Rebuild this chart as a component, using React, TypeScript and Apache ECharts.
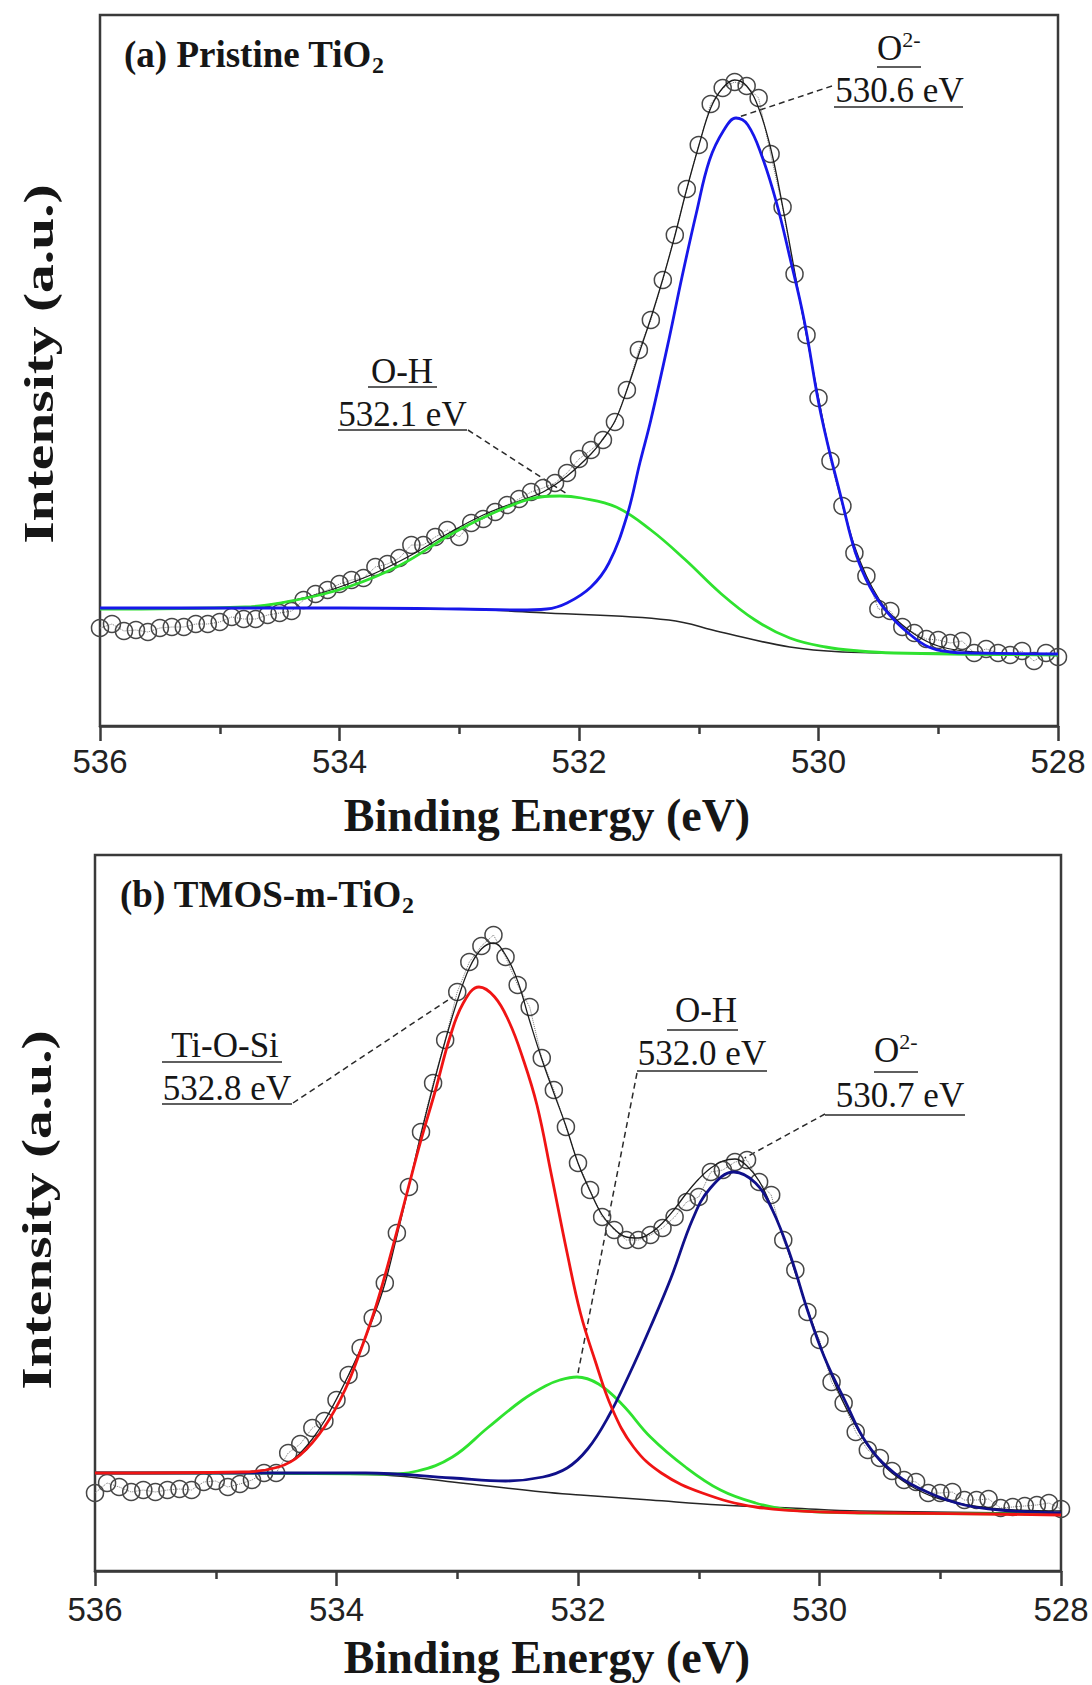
import React, { useEffect, useRef } from "react";
import * as echarts from "echarts";

// ---------------- data ----------------
const scanEnergy = [
  536.0, 535.9, 535.8, 535.7, 535.6, 535.5, 535.4, 535.3, 535.2, 535.1,
  535.0, 534.9, 534.8, 534.7, 534.6, 534.5, 534.4, 534.3, 534.2, 534.1,
  534.0, 533.9, 533.8, 533.7, 533.6, 533.5, 533.4, 533.3, 533.2, 533.1,
  533.0, 532.9, 532.8, 532.7, 532.6, 532.5, 532.4, 532.3, 532.2, 532.1,
  532.0, 531.9, 531.8, 531.7, 531.6, 531.5, 531.4, 531.3, 531.2, 531.1,
  531.0, 530.9, 530.8, 530.7, 530.6, 530.5, 530.4, 530.3, 530.2, 530.1,
  530.0, 529.9, 529.8, 529.7, 529.6, 529.5, 529.4, 529.3, 529.2, 529.1,
  529.0, 528.9, 528.8, 528.7, 528.6, 528.5, 528.4, 528.3, 528.2, 528.1,
  528.0,
];

const pristineCounts = [
  98, 102, 95, 96, 94, 98, 99, 99, 102, 102,
  104, 109, 107, 107, 111, 113, 115, 126, 132, 136,
  142, 146, 148, 159, 162, 168, 181, 181, 189, 196,
  189, 203, 207, 214, 221, 227, 234, 238, 243, 253,
  267, 276, 286, 304, 336, 376, 406, 446, 491, 537,
  581, 622, 638, 644, 640, 628, 572, 519, 452, 391,
  328, 265, 220, 173, 150, 117, 115, 99, 93, 87,
  86, 83, 85, 73, 77, 73, 71, 75, 65, 73,
  69,
];

const tmosCounts = [
  78, 88, 84, 79, 81, 79, 81, 82, 81, 89,
  90, 84, 87, 91, 98, 98, 118, 127, 143, 150,
  171, 196, 223, 253, 288, 338, 384, 439, 488, 531,
  579, 609, 625, 636, 614, 586, 564, 513, 481, 444,
  408, 381, 354, 341, 331, 331, 336, 343, 354, 369,
  374, 399, 401, 409, 411, 389, 376, 331, 301, 259,
  231, 189, 168, 139, 121, 113, 100, 91, 89, 78,
  78, 79, 71, 71, 72, 63, 64, 65, 66, 68,
  62,
];

const pristineEnvelope: [number, number][] = [
  [536.0, 117], [535.0, 118], [534.6, 121], [534.3, 128], [534.0, 139], [533.7, 153],
  [533.4, 171], [533.1, 192], [532.8, 211], [532.5, 225], [532.3, 234], [532.1, 250],
  [531.9, 272], [531.8, 287], [531.7, 305], [531.6, 336], [531.5, 372], [531.4, 408],
  [531.3, 447], [531.2, 490], [531.1, 537], [531.0, 580], [530.9, 618], [530.8, 638],
  [530.7, 646], [530.6, 640], [530.5, 618], [530.4, 578], [530.3, 520], [530.2, 455],
  [530.1, 390], [530.0, 328], [529.9, 270], [529.8, 222], [529.7, 180], [529.6, 150],
  [529.5, 128], [529.4, 112], [529.2, 92], [529.0, 80], [528.7, 74], [528.0, 71],
];

const pristineO2: [number, number][] = [
  [536.0, 118], [535.0, 118], [534.0, 118], [533.0, 117], [532.5, 116], [532.27, 117],
  [532.1, 123], [531.9, 139], [531.75, 163], [531.6, 210], [531.49, 264], [531.4, 306],
  [531.25, 386], [531.14, 449], [531.02, 513], [530.91, 566], [530.79, 596], [530.69, 608],
  [530.59, 601], [530.47, 569], [530.35, 523], [530.24, 469], [530.12, 406], [529.98, 312],
  [529.8, 223], [529.69, 173], [529.57, 139], [529.42, 113], [529.25, 93],
  [529.08, 79], [528.9, 74], [528.73, 73], [528.0, 72],
];

const pristineOH: [number, number][] = [
  [536.0, 117], [534.79, 119], [534.36, 126], [533.93, 139], [533.49, 161], [533.05, 193],
  [532.62, 218], [532.32, 229], [532.16, 230], [531.98, 228], [531.69, 219], [531.4, 196],
  [531.11, 166], [530.82, 133], [530.53, 106], [530.24, 88], [529.94, 79], [529.66, 75],
  [529.37, 73], [528.0, 71],
];

const pristineBackground: [number, number][] = [
  [536.0, 118], [534.0, 118], [533.0, 117], [532.27, 113], [531.25, 106], [530.82, 94],
  [530.24, 79], [529.8, 74], [529.37, 73], [528.0, 72],
];

const tmosEnvelope: [number, number][] = [
  [536.0, 98], [535.0, 98], [534.6, 101], [534.4, 108], [534.3, 118], [534.2, 132],
  [534.1, 150], [534.0, 172], [533.9, 196], [533.8, 222], [533.7, 252], [533.6, 287],
  [533.5, 335], [533.4, 385], [533.3, 437], [533.2, 485], [533.1, 530], [533.0, 570],
  [532.9, 603], [532.8, 622], [532.7, 628], [532.6, 616], [532.5, 590], [532.4, 550],
  [532.3, 512], [532.2, 478], [532.1, 445], [532.0, 408], [531.9, 380], [531.8, 356],
  [531.7, 342], [531.6, 334], [531.5, 333], [531.4, 338], [531.3, 348], [531.2, 362],
  [531.1, 378], [531.0, 392], [530.9, 403], [530.8, 410], [530.7, 412], [530.6, 405],
  [530.5, 390], [530.4, 365], [530.3, 335], [530.2, 298], [530.1, 262], [530.0, 228],
  [529.9, 195], [529.8, 168], [529.7, 145], [529.6, 125], [529.5, 110], [529.4, 98],
  [529.2, 82], [529.0, 72], [528.6, 63], [528.0, 60],
];

const tmosTiOSi: [number, number][] = [
  [536.0, 98], [534.77, 99], [534.48, 104], [534.3, 116], [534.1, 144], [533.93, 181],
  [533.79, 224], [533.67, 266], [533.53, 326], [533.41, 381], [533.3, 431],
  [533.18, 481], [533.06, 534], [532.95, 568], [532.82, 584], [532.69, 574], [532.57, 549],
  [532.46, 514], [532.34, 466], [532.22, 396], [532.09, 318], [531.98, 258], [531.86, 211],
  [531.72, 163], [531.54, 124], [531.31, 98], [530.97, 78], [530.53, 64], [529.96, 59],
  [529.38, 58], [528.0, 56],
];

const tmosOH: [number, number][] = [
  [536.0, 98], [534.77, 98], [533.61, 97], [533.33, 100], [533.04, 114], [532.75, 143],
  [532.46, 171], [532.27, 185], [532.15, 191], [532.01, 194], [531.83, 187], [531.63, 166],
  [531.4, 134], [531.11, 104], [530.82, 81], [530.53, 68], [530.24, 61], [529.67, 58],
  [528.0, 57],
];

const tmosO2: [number, number][] = [
  [536.0, 98], [533.76, 98], [533.04, 93], [532.6, 90], [532.29, 94], [532.09, 103],
  [531.92, 122], [531.75, 154], [531.57, 198], [531.4, 244], [531.23, 293], [531.05, 352],
  [530.91, 382], [530.71, 399], [530.53, 388], [530.39, 361], [530.24, 315],
  [530.1, 261], [529.96, 214], [529.78, 168], [529.61, 128], [529.38, 98], [529.09, 78],
  [528.8, 66], [528.51, 61], [528.0, 58],
];

const tmosBackground: [number, number][] = [
  [536.0, 98], [535.0, 98], [534.0, 97], [533.61, 96], [533.04, 89], [532.29, 79],
  [531.98, 76], [531.4, 71], [530.82, 66], [530.24, 63], [529.67, 60], [528.0, 58],
];

const energyTicks = [536, 534, 532, 530, 528];
const panelTitles = ["(a) Pristine TiO", "(b) TMOS-m-TiO"];
const xTitle = "Binding Energy (eV)";
const yTitle = "Intensity (a.u.)";

const pristinePeakNames = ["O-H", "O2-"];
const pristinePeakEnergies = ["532.1 eV", "530.6 eV"];
const pristinePeakTargets: [number, number][] = [[532.1, 232], [530.69, 608]];

const tmosPeakNames = ["Ti-O-Si", "O-H", "O2-"];
const tmosPeakEnergies = ["532.8 eV", "532.0 eV", "530.7 eV"];
const tmosPeakTargets: [number, number][] = [[533.04, 574], [532.0, 198], [530.62, 413]];

// ---------------- styling ----------------
const SERIF = '"Liberation Serif", "Times New Roman", serif';
const SANS = '"Liberation Sans", Arial, sans-serif';
const AXIS = "#3a3a3a";
const INK = "#161616";

export default function App() {
  const ref = useRef<HTMLDivElement>(null);

  useEffect(() => {
    const chart = echarts.init(ref.current!, null, { renderer: "svg" });

    const xAxis = (gridIndex: number, margin: number) => ({
      gridIndex,
      type: "value",
      min: energyTicks[energyTicks.length - 1],
      max: energyTicks[0],
      interval: 2,
      inverse: true,
      axisLine: { show: true, lineStyle: { color: AXIS, width: 2.5 } },
      axisTick: { show: true, inside: false, length: 15, lineStyle: { color: AXIS, width: 2.5 } },
      minorTick: { show: true, splitNumber: 2, length: 8, lineStyle: { color: AXIS, width: 2.5 } },
      splitLine: { show: false },
      minorSplitLine: { show: false },
      axisLabel: {
        fontSize: 33,
        fontFamily: SANS,
        color: "#222",
        margin,
        showMinLabel: true,
        showMaxLabel: true,
      },
    });
    const yAxis = (gridIndex: number, max: number) => ({
      gridIndex,
      type: "value",
      min: 0,
      max,
      show: false,
    });

    const circles = (g: number, counts: number[]) => ({
      type: "line",
      xAxisIndex: g,
      yAxisIndex: g,
      data: scanEnergy.map((e, i) => [e, counts[i]]),
      symbol: "circle",
      symbolSize: 17,
      showSymbol: true,
      showAllSymbol: true,
      itemStyle: { color: "rgba(255,255,255,0)", borderColor: "#474747", borderWidth: 1.5 },
      lineStyle: { color: "#777", width: 1, type: "dotted" },
      emphasis: { disabled: true },
      silent: true,
      z: 2,
    });
    const curve = (g: number, data: [number, number][], color: string, width: number, z: number) => ({
      type: "line",
      xAxisIndex: g,
      yAxisIndex: g,
      data,
      symbol: "none",
      showSymbol: false,
      smooth: 0.4,
      lineStyle: { color, width },
      emphasis: { disabled: true },
      silent: true,
      z,
    });

    chart.setOption({
      animation: false,
      backgroundColor: "#ffffff",
      grid: [
        { left: 100, top: 15, width: 958, height: 711, show: true, borderColor: AXIS, borderWidth: 2.5, backgroundColor: "transparent" },
        { left: 95, top: 855, width: 966, height: 716, show: true, borderColor: AXIS, borderWidth: 2.5, backgroundColor: "transparent" },
      ],
      xAxis: [xAxis(0, 19), xAxis(1, 22)],
      yAxis: [yAxis(0, 711), yAxis(1, 716)],
      series: [
        circles(0, pristineCounts),
        curve(0, pristineEnvelope, "#1c1c1c", 1.3, 3),
        curve(0, pristineBackground, "#262626", 1.6, 4),
        curve(0, pristineOH, "#2fe22f", 2.8, 5),
        curve(0, pristineO2, "#1717ea", 2.8, 6),
        circles(1, tmosCounts),
        curve(1, tmosEnvelope, "#1c1c1c", 1.3, 3),
        curve(1, tmosBackground, "#262626", 1.6, 4),
        curve(1, tmosOH, "#2fe22f", 2.8, 5),
        curve(1, tmosO2, "#10108a", 2.8, 6),
        curve(1, tmosTiOSi, "#f01414", 2.8, 7),
      ],
    });

    const toPx = (g: number, p: [number, number]) =>
      chart.convertToPixel({ xAxisIndex: g, yAxisIndex: g } as any, p) as number[];

    const text = (x: number, baseline: number, t: string, fs = 35, align = "center", weight = "normal") => ({
      type: "text",
      x,
      y: baseline - 0.3375 * fs,
      silent: true,
      style: { text: t, fontSize: fs, fontFamily: SERIF, fontWeight: weight, fill: INK, align, verticalAlign: "middle" },
    });
    const hline = (x1: number, x2: number, y: number) => ({
      type: "line",
      silent: true,
      shape: { x1, y1: y, x2, y2: y },
      style: { stroke: "#2a2a2a", lineWidth: 1.6 },
    });
    const leader = (from: number[], to: number[]) => ({
      type: "line",
      silent: true,
      shape: { x1: from[0], y1: from[1], x2: to[0], y2: to[1] },
      style: { stroke: "#2a2a2a", lineWidth: 1.5, lineDash: [6, 4] },
    });
    const ionLabel = (left: number, baseline: number, name: string) => ({
      type: "text",
      x: left,
      y: baseline - 31.8,
      silent: true,
      style: {
        text: `{o|${name.slice(0, 1)}}{p|${name.slice(1)}}`,
        align: "left",
        verticalAlign: "top",
        rich: {
          o: { fontSize: 35, lineHeight: 40, fontFamily: SERIF, fill: INK },
          p: { fontSize: 22, lineHeight: 30, verticalAlign: "top", fontFamily: SERIF, fill: INK },
        },
      },
    });
    const panelTitle = (left: number, baseline: number, t: string) => ({
      type: "text",
      x: left,
      y: baseline - 34.15,
      silent: true,
      style: {
        text: `{m|${t}}{s|2}`,
        align: "left",
        verticalAlign: "top",
        rich: {
          m: { fontSize: 37, lineHeight: 44, fontWeight: "bold", fontFamily: SERIF, fill: INK },
          s: { fontSize: 24, lineHeight: 20, verticalAlign: "bottom", fontWeight: "bold", fontFamily: SERIF, fill: INK },
        },
      },
    });
    const axisTitleX = (cy: number) => ({
      type: "text",
      x: 547,
      y: cy,
      silent: true,
      style: { text: xTitle, fontSize: 46, fontWeight: "bold", fontFamily: SERIF, fill: INK, align: "center", verticalAlign: "middle" },
    });
    const axisTitleY = (cx: number, cy: number) => ({
      type: "text",
      x: cx,
      y: cy,
      rotation: Math.PI / 2,
      scaleX: 1.37,
      silent: true,
      style: { text: yTitle, fontSize: 42, fontWeight: "bold", fontFamily: SERIF, fill: INK, align: "center", verticalAlign: "middle" },
    });

    const elements: any[] = [
      panelTitle(124, 67, panelTitles[0]),
      panelTitle(120, 907, panelTitles[1]),
      axisTitleX(815),
      axisTitleX(1657),
      axisTitleY(39, 364),
      axisTitleY(37, 1210),

      // (a) O-H
      text(402, 383, pristinePeakNames[0]),
      hline(368, 437, 387),
      text(402.5, 426, pristinePeakEnergies[0]),
      hline(338, 467, 430),
      leader([468, 430], toPx(0, pristinePeakTargets[0])),
      // (a) O2-
      ionLabel(877, 60, pristinePeakNames[1]),
      hline(877, 921, 67),
      text(899.5, 102, pristinePeakEnergies[1]),
      hline(834, 963, 107),
      leader([832, 86], toPx(0, pristinePeakTargets[1])),

      // (b) Ti-O-Si
      text(225, 1057, tmosPeakNames[0]),
      hline(162, 282, 1062),
      text(227, 1100, tmosPeakEnergies[0]),
      hline(162, 292, 1104),
      leader([293, 1103], toPx(1, tmosPeakTargets[0])),
      // (b) O-H
      text(706, 1022, tmosPeakNames[1]),
      hline(667, 738, 1030),
      text(702, 1065, tmosPeakEnergies[1]),
      hline(637, 767, 1071),
      leader([637, 1073], toPx(1, tmosPeakTargets[1])),
      // (b) O2-
      ionLabel(874, 1062, tmosPeakNames[2]),
      hline(874, 918, 1072),
      text(900, 1107, tmosPeakEnergies[2]),
      hline(825, 965, 1115),
      leader([825, 1114], toPx(1, tmosPeakTargets[2])),
    ];

    chart.setOption({ graphic: { elements } });

    return () => chart.dispose();
  }, []);

  return (
    <div
      ref={ref}
      style={{ position: "absolute", left: 0, top: 0, width: 1092, height: 1685, background: "#ffffff" }}
    />
  );
}
